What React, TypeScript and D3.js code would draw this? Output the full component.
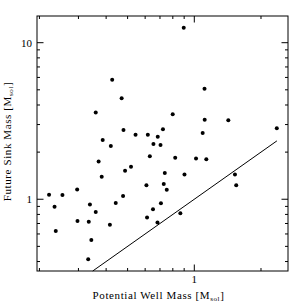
import React from 'react'
import * as d3 from 'd3'

// potential well mass (Msol) vs future sink mass (Msol)
const wellMass = [
  0.426, 0.470, 0.896, 1.112, 0.359, 0.479, 0.386, 0.420, 0.370, 0.487,
  0.382, 0.296, 0.799, 1.114, 1.091, 0.722, 0.543, 0.617, 0.684, 0.654,
  0.704, 0.630, 0.820, 1.018, 1.133, 0.518, 0.736, 0.903, 0.608, 0.728,
  0.751, 1.424, 2.357, 1.526, 1.546, 0.221, 0.254, 0.477, 0.234, 0.338,
  0.442, 0.359, 0.297, 0.334, 0.416, 0.237, 0.343, 0.332, 0.707, 0.651,
  0.612, 0.682, 0.865
]
const sinkMass = [
  5.80, 4.42, 12.47, 5.08, 3.58, 2.77, 2.39, 2.19, 1.74, 1.52,
  1.39, 1.155, 3.49, 3.22, 2.65, 2.80, 2.58, 2.58, 2.51, 2.25,
  2.22, 1.88, 1.84, 1.82, 1.80, 1.61, 1.47, 1.44, 1.23, 1.25,
  1.15, 3.20, 2.84, 1.44, 1.23, 1.07, 1.065, 1.047, 0.897, 0.924,
  0.947, 0.830, 0.727, 0.718, 0.688, 0.627, 0.550, 0.413, 0.943, 0.863,
  0.765, 0.711, 0.815
]
// one-to-one line, x = y
const lineEnds = [0.348, 2.36]

const xMajor = [1]
const xMinor = [0.2, 0.3, 0.4, 0.5, 0.6, 0.7, 0.8, 0.9, 2]
const yMajor = [1, 10]
const yMinor = [0.4, 0.5, 0.6, 0.7, 0.8, 0.9, 2, 3, 4, 5, 6, 7, 8, 9]

const left = 37, right = 288, top = 16, bottom = 271

function App() {
  const x = d3.scaleLog().domain([0.195, 2.648]).range([left, right])
  const y = d3.scaleLog().domain([0.348, 14.81]).range([bottom, top])

  const line = d3.line<number>()
    .x(d => x(d))
    .y(d => y(d))

  const font = '"Liberation Serif", serif'
  const major = 6.5, minor = 3

  return (
    <svg width={304} height={304} style={{position: 'absolute', left: 0, top: 0}}>
      <rect x={0} y={0} width={304} height={304} fill="white" />
      <rect x={left} y={top} width={right - left} height={bottom - top}
            fill="none" stroke="black" strokeWidth={1} />

      {xMajor.concat(xMinor).map((t, i) => {
        const len = xMajor.includes(t) ? major : minor
        return (
          <g key={'xt' + i} stroke="black" strokeWidth={1}>
            <line x1={x(t)} x2={x(t)} y1={bottom} y2={bottom - len} />
            <line x1={x(t)} x2={x(t)} y1={top} y2={top + len} />
          </g>
        )
      })}
      {yMajor.concat(yMinor).map((t, i) => {
        const len = yMajor.includes(t) ? major : minor
        return (
          <g key={'yt' + i} stroke="black" strokeWidth={1}>
            <line x1={left} x2={left + len} y1={y(t)} y2={y(t)} />
            <line x1={right} x2={right - len} y1={y(t)} y2={y(t)} />
          </g>
        )
      })}

      {xMajor.map(t => (
        <text key={'xl' + t} x={x(t)} y={282.5} textAnchor="middle"
              fontFamily={font} fontSize={11}>{t}</text>
      ))}
      {yMajor.map(t => (
        <text key={'yl' + t} x={32} y={y(t)} dy="0.35em" textAnchor="end"
              fontFamily={font} fontSize={11}>{t}</text>
      ))}

      <path d={line(lineEnds) || ''} fill="none" stroke="black" strokeWidth={1} />

      {wellMass.map((m, i) => (
        <circle key={i} cx={x(m)} cy={y(sinkMass[i])} r={2} fill="black" />
      ))}

      <text x={(left + right) / 2 - 4} y={298.5} textAnchor="middle"
            fontFamily={font} fontSize={11} letterSpacing={0.6}>
        Potential Well Mass [M<tspan fontSize={7} dy={2}>sol</tspan><tspan dy={-2}>]</tspan>
      </text>
      <text transform={`translate(10.5, ${(top + bottom) / 2 - 2}) rotate(-90)`}
            textAnchor="middle" fontFamily={font} fontSize={11} letterSpacing={0.6}>
        Future Sink Mass [M<tspan fontSize={7} dy={2}>sol</tspan><tspan dy={-2}>]</tspan>
      </text>
    </svg>
  )
}

export default App
